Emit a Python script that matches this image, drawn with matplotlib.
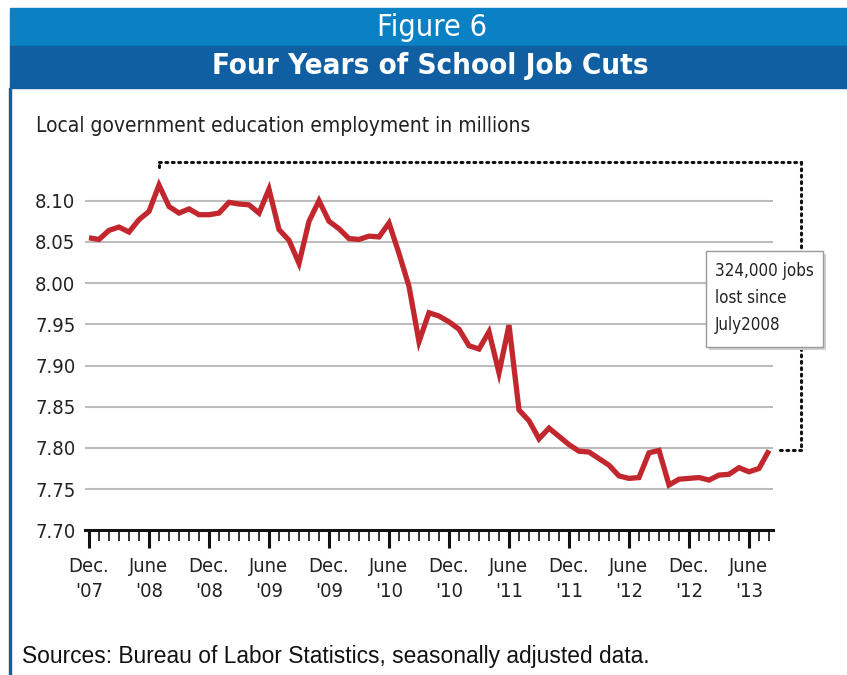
import matplotlib
matplotlib.use("Agg")
import matplotlib.pyplot as plt
from matplotlib.patches import Rectangle
from matplotlib import font_manager as fm
import numpy as np

# ---- data (monthly, Dec 2007 - Aug 2013), millions ----
employment = [
    8.055, 8.053, 8.064, 8.068, 8.062, 8.077, 8.087, 8.119, 8.093, 8.085,
    8.090, 8.083, 8.083, 8.085, 8.098, 8.096, 8.095, 8.085, 8.114, 8.065,
    8.052, 8.024, 8.075, 8.100, 8.075, 8.066, 8.054, 8.053, 8.057, 8.056,
    8.073, 8.036, 7.996, 7.929, 7.964, 7.960, 7.953, 7.944, 7.924, 7.920,
    7.941, 7.891, 7.949, 7.846, 7.833, 7.811, 7.824, 7.814, 7.804, 7.796,
    7.795, 7.787, 7.779, 7.766, 7.763, 7.764, 7.794, 7.797, 7.755, 7.762,
    7.763, 7.764, 7.761, 7.767, 7.768, 7.776, 7.771, 7.775, 7.797,
]
major_labels = ["Dec.\n'07", "June\n'08", "Dec.\n'08", "June\n'09", "Dec.\n'09",
                "June\n'10", "Dec.\n'10", "June\n'11", "Dec.\n'11", "June\n'12",
                "Dec.\n'12", "June\n'13"]
y_ticks = [7.70, 7.75, 7.80, 7.85, 7.90, 7.95, 8.00, 8.05, 8.10]
y_labels = ["7.70", "7.75", "7.80", "7.85", "7.90", "7.95", "8.00", "8.05", "8.10"]
peak_label = "July2008"
box_text = "324,000 jobs\nlost since\n" + peak_label

# ---- font selection: prefer a condensed face if one is installed ----
cond_fams = []
for f in fm.fontManager.ttflist:
    st = str(f.stretch).lower()
    if st in ("condensed", "semi-condensed", "extra-condensed") or "narrow" in f.name.lower() \
            or "condensed" in f.name.lower():
        cond_fams.append(f.name)
pref = ["Liberation Sans Narrow", "DejaVu Sans", "Open Sans", "Roboto"]
COND = None
for p in pref:
    if p in cond_fams:
        COND = p
        break
if COND is None and cond_fams:
    COND = cond_fams[0]
if COND is not None:
    NARROW = dict(family=[COND, "DejaVu Sans"], stretch="condensed")
    scale = 1.0
else:
    NARROW = dict(family=["Roboto", "DejaVu Sans"])
    scale = 0.9
REG = dict(family=["Liberation Sans", "DejaVu Sans"])

W, H = 847, 675
fig = plt.figure(figsize=(W / 100, H / 100), dpi=100)

def fx(x):
    return x / W

def fy(y):
    return 1 - y / H

# ---- header bands ----
light_blue = "#0a80c5"
dark_blue = "#115fa3"
fig.patches.append(Rectangle((fx(10), fy(46)), fx(W) - fx(10), fy(8) - fy(46),
                             transform=fig.transFigure, color=light_blue, zorder=0))
fig.patches.append(Rectangle((fx(10), fy(88)), fx(W) - fx(10), fy(46) - fy(88),
                             transform=fig.transFigure, color=dark_blue, zorder=0))
fig.patches.append(Rectangle((fx(9), fy(675)), fx(2), fy(88) - fy(675),
                             transform=fig.transFigure, color=dark_blue, zorder=0))

fig.text(fx(432), fy(27), "Figure 6", color="white", fontsize=22 * scale,
         ha="center", va="center", **NARROW)
fig.text(fx(430), fy(66), "Four Years of School Job Cuts", color="white",
         fontsize=21.2 * scale, fontweight="bold", ha="center", va="center", **NARROW)

fig.text(fx(36), fy(126), "Local government education employment in millions",
         fontsize=15 * scale, color="#222222", ha="left", va="center", **NARROW)

fig.text(fx(22), fy(657), "Sources: Bureau of Labor Statistics, seasonally adjusted data.",
         fontsize=16.4, color="#111111", ha="left", va="center", **REG)

# ---- axes ----
n = len(employment)
x = np.arange(n)
ax_left, ax_right = 85, 773
ax_bottom, ax_top = 530.3, 160
ax = fig.add_axes([fx(ax_left), fy(ax_bottom), fx(ax_right) - fx(ax_left),
                   fy(ax_top) - fy(ax_bottom)])
ax.set_xlim(-0.4, n - 1 + 0.4)
px_per_val = 41.2 / 0.05
ax.set_ylim(7.70, 7.70 + (ax_bottom - ax_top) / px_per_val)
ax.patch.set_alpha(0)

for v in y_ticks[1:]:
    ax.axhline(v, color="#bdbdbd", lw=1.5, zorder=1)

ax.plot(x, employment, color="#c1272d", lw=3.8, solid_joinstyle="miter",
        solid_capstyle="butt", zorder=3)

for s in ["top", "right", "left"]:
    ax.spines[s].set_visible(False)
ax.spines["bottom"].set_linewidth(2.2)
ax.spines["bottom"].set_color("#111111")

ax.set_yticks(y_ticks)
ax.set_yticklabels(y_labels, fontsize=14.5 * scale, color="#222222", **NARROW)
ax.tick_params(axis="y", length=0, pad=7)

ax.set_xticks(np.arange(0, n, 6))
ax.set_xticklabels(major_labels, fontsize=14.5 * scale, color="#222222",
                   linespacing=1.4, **NARROW)
ax.set_xticks(x, minor=True)
ax.tick_params(axis="x", which="major", length=13, width=2.2, color="#111111", pad=6)
ax.tick_params(axis="x", which="minor", length=8, width=1.2, color="#111111")

# ---- dotted bracket from the July 2008 peak to the latest value ----
peak_i = int(np.argmax(employment))
peak_v = employment[peak_i]
last_i = n - 1
last_v = employment[-1]
top_v = 7.70 + (ax_bottom - 162) / px_per_val
right_i = last_i + 3.2
dot_kw = dict(color="#111111", lw=2.2, linestyle=(0, (0.6, 1.5)),
              dash_capstyle="round", clip_on=False, zorder=2)
ax.plot([peak_i, peak_i], [peak_v + 0.022, top_v], **dot_kw)
ax.plot([peak_i, right_i], [top_v, top_v], **dot_kw)
ax.plot([right_i, right_i], [top_v, last_v], **dot_kw)
ax.plot([last_i + 1.1, right_i], [last_v, last_v], **dot_kw)

# ---- annotation box ----
bx0, by0, bx1, by1 = 706, 251, 823, 347
fig.patches.append(Rectangle((fx(bx0 + 3), fy(by1 + 3)), fx(bx1) - fx(bx0), fy(by0) - fy(by1),
                             transform=fig.transFigure, facecolor="#d0d0d0",
                             edgecolor="none", zorder=4))
fig.patches.append(Rectangle((fx(bx0), fy(by1)), fx(bx1) - fx(bx0), fy(by0) - fy(by1),
                             transform=fig.transFigure, facecolor="white",
                             edgecolor="#9a9a9a", lw=1.0, zorder=5))
fig.text(fx(715), fy(298), box_text, fontsize=12.2 * scale, color="#222222",
         ha="left", va="center", linespacing=1.65, zorder=6, **NARROW)

fig.savefig("out.png", dpi=100)
